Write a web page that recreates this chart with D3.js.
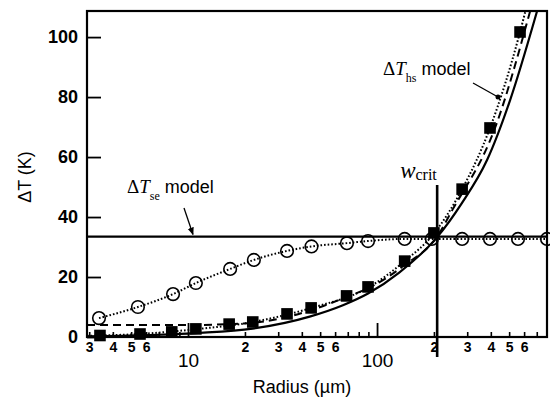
<!DOCTYPE html>
<html>
<head>
<meta charset="utf-8">
<script src="https://cdn.jsdelivr.net/npm/d3@7"></script>
<style>
  body { margin: 0; background: #fff; }
  svg { display: block; font-family: "Liberation Sans", Arial, sans-serif; }
</style>
</head>
<body>
<svg id="chart" width="550" height="401"></svg>
<script>
// --- values ---
// open circles (dT_se measurements)
const seRadius = [3.38, 5.43, 8.33, 11.0, 16.7, 22.3, 33.4, 45.0, 69.3, 89.6, 140, 195, 282, 396, 557, 793];
const seData   = [6.3, 10.0, 14.3, 18.0, 22.7, 25.7, 28.7, 30.2, 31.3, 32.0, 32.7, 32.7, 32.7, 32.7, 32.7, 32.7];

// filled squares (dT_hs measurements)
const hsRadius = [3.42, 5.57, 8.2, 11.0, 16.5, 22.0, 33.4, 44.8, 69.0, 89.6, 140, 200, 282, 396, 571];
const hsData   = [0.5, 1.0, 1.7, 2.7, 4.3, 5.0, 7.7, 9.7, 13.7, 16.7, 25.3, 34.7, 49.3, 69.7, 101.7];

// dotted dT_hs model curve
const hsModelRadius = [2.92, 5.5, 11, 22, 45, 90, 140, 200, 282, 396, 571, 610];
const hsModelT      = [0.4, 1.0, 2.6, 5.0, 9.7, 16.5, 25.3, 34.5, 49.3, 69.7, 101.7, 108.7];

// dashed curve
const dashRadius = [2.92, 10, 20, 30, 45, 70, 90, 140, 208, 250, 421, 646];
const dashT      = [4.0, 4.0, 4.5, 6.0, 9.0, 13.5, 16.3, 24.0, 33.5, 42.3, 69.7, 108.7];

// solid curve
const solidRadius = [2.92, 11, 22, 44, 66, 89.6, 131, 208, 280, 382, 506, 703];
const solidT      = [0.2, 1.3, 2.8, 6.8, 10.6, 14.5, 21.5, 33.3, 44.5, 59.0, 79.0, 108.7];

const seModel = 33.5;   // horizontal dT_se model line
const wCrit = 208;      // vertical w_crit line

// tick labels
const majorTicks = [10, 100];
const minorTicks = [3, 4, 5, 6, 7, 8, 9, 20, 30, 40, 50, 60, 70, 80, 90, 200, 300, 400, 500, 600, 700];
const minorLabels = [3, 4, 5, 6, 20, 30, 40, 50, 60, 200, 300, 400, 500, 600];
const yTicks = [0, 20, 40, 60, 80, 100];

const margin = { top: 11, right: 3, bottom: 64, left: 87 },
      width = 550 - margin.left - margin.right,
      height = 401 - margin.top - margin.bottom;

const svg = d3.select("#chart");
const g = svg.append("g")
             .attr("transform", `translate(${margin.left},${margin.top})`);

const x = d3.scaleLog().domain([2.92, 793]).range([0, width]);
const y = d3.scaleLinear().domain([0, 108.7]).range([height, 0]);

svg.append("defs").append("clipPath")
   .attr("id", "plot-clip")
   .append("rect")
   .attr("width", width)
   .attr("height", height);

// X axis: small digit labels + big decade labels, ticks point inward
g.append("g")
 .attr("transform", `translate(0,${height})`)
 .call(d3.axisBottom(x)
         .tickValues(minorTicks)
         .tickSize(-5)
         .tickPadding(5)
         .tickFormat(d => minorLabels.includes(d) ? String(d).charAt(0) : ""))
 .call(a => a.select(".domain").remove())
 .call(a => a.selectAll(".tick line").attr("stroke", "#000").attr("stroke-width", 1.6))
 .call(a => a.selectAll("text").attr("font-size", 14).attr("font-weight", "bold")
             .attr("fill", "#000").attr("font-family", "Liberation Sans, Arial, sans-serif"));

g.append("g")
 .attr("transform", `translate(0,${height})`)
 .call(d3.axisBottom(x)
         .tickValues(majorTicks)
         .tickSize(-14)
         .tickPadding(17)
         .tickFormat(d => d))
 .call(a => a.select(".domain").remove())
 .call(a => a.selectAll(".tick line").attr("stroke", "#000").attr("stroke-width", 1.8))
 .call(a => a.selectAll("text").attr("font-size", 19).attr("fill", "#000")
             .attr("font-family", "Liberation Sans, Arial, sans-serif"));

// Y axis
g.append("g")
 .call(d3.axisLeft(y)
         .tickValues(yTicks)
         .tickSize(-14)
         .tickPadding(9))
 .call(a => a.select(".domain").remove())
 .call(a => a.selectAll(".tick line").attr("stroke", "#000").attr("stroke-width", 1.8))
 .call(a => a.selectAll("text").attr("font-size", 18).attr("font-weight", "bold")
             .attr("fill", "#000").attr("font-family", "Liberation Sans, Arial, sans-serif"));

// frame
g.append("rect")
 .attr("width", width)
 .attr("height", height)
 .attr("fill", "none")
 .attr("stroke", "#000")
 .attr("stroke-width", 2.2);

const plot = g.append("g").attr("clip-path", "url(#plot-clip)");

const line = d3.line()
               .x(d => x(d[0]))
               .y(d => y(d[1]))
               .curve(d3.curveMonotoneX);

// horizontal dT_se model line
plot.append("line")
    .attr("x1", 0).attr("x2", width)
    .attr("y1", y(seModel)).attr("y2", y(seModel))
    .attr("stroke", "#000").attr("stroke-width", 2.2);

// model curves
plot.append("path")
    .datum(d3.zip(solidRadius, solidT))
    .attr("d", line)
    .attr("fill", "none").attr("stroke", "#000").attr("stroke-width", 2.2);

plot.append("path")
    .datum(d3.zip(dashRadius, dashT))
    .attr("d", line)
    .attr("fill", "none").attr("stroke", "#000").attr("stroke-width", 2)
    .attr("stroke-dasharray", "8,5");

plot.append("path")
    .datum(d3.zip(hsModelRadius, hsModelT))
    .attr("d", line)
    .attr("fill", "none").attr("stroke", "#000").attr("stroke-width", 2)
    .attr("stroke-dasharray", "1.6,2");

// dotted line through the circles
plot.append("path")
    .datum(d3.zip(seRadius, seData))
    .attr("d", line)
    .attr("fill", "none").attr("stroke", "#000").attr("stroke-width", 2)
    .attr("stroke-dasharray", "1.6,2");

// points
g.selectAll(".se-dot")
 .data(d3.zip(seRadius, seData))
 .enter().append("circle")
 .attr("class", "se-dot")
 .attr("cx", d => x(d[0]))
 .attr("cy", d => y(d[1]))
 .attr("r", 6.3)
 .attr("fill", "none")
 .attr("stroke", "#000")
 .attr("stroke-width", 1.6);

g.selectAll(".hs-dot")
 .data(d3.zip(hsRadius, hsData))
 .enter().append("rect")
 .attr("class", "hs-dot")
 .attr("x", d => x(d[0]) - 5.8)
 .attr("y", d => y(d[1]) - 5.8)
 .attr("width", 11.6)
 .attr("height", 11.6)
 .attr("fill", "#000");

// w_crit vertical line (runs down through the axis)
g.append("line")
 .attr("x1", x(wCrit)).attr("x2", x(wCrit))
 .attr("y1", 174).attr("y2", height + 20)
 .attr("stroke", "#000").attr("stroke-width", 2.6);

const wLabel = g.append("text")
                .attr("x", x(wCrit) - 37)
                .attr("y", 167)
                .attr("font-family", "Liberation Serif, Times New Roman, serif");
wLabel.append("tspan").attr("font-style", "italic").attr("font-size", 23).text("w");
wLabel.append("tspan").attr("font-size", 16).attr("dy", 2).text("crit");

// model annotations
function modelLabel(px, py, sub) {
  const t = g.append("text").attr("x", px).attr("y", py);
  t.append("tspan").attr("font-family", "Liberation Serif, Times New Roman, serif")
   .attr("font-size", 19).text("\u0394");
  t.append("tspan").attr("font-family", "Liberation Serif, Times New Roman, serif")
   .attr("font-size", 19).attr("font-style", "italic").text("T");
  t.append("tspan").attr("font-family", "Liberation Serif, Times New Roman, serif")
   .attr("font-size", 12).attr("dy", 7).text(sub);
  t.append("tspan").attr("font-size", 18).attr("dy", -7).text(" model");
}
modelLabel(40, 182, "se");
modelLabel(296, 64, "hs");

// arrows
svg.select("defs").append("marker")
   .attr("id", "arrow")
   .attr("viewBox", "0 0 10 10")
   .attr("refX", 9).attr("refY", 5)
   .attr("markerWidth", 6).attr("markerHeight", 6)
   .attr("orient", "auto")
   .append("path")
   .attr("d", "M0,1 L10,5 L0,9 z")
   .attr("fill", "#000");

g.append("line")
 .attr("x1", 97).attr("y1", 197)
 .attr("x2", 106).attr("y2", y(seModel) - 2)
 .attr("stroke", "#000").attr("stroke-width", 1.3)
 .attr("marker-end", "url(#arrow)");

g.append("line")
 .attr("x1", 386).attr("y1", 72)
 .attr("x2", 411).attr("y2", 86)
 .attr("stroke", "#000").attr("stroke-width", 1.3);
g.append("circle")
 .attr("cx", 411).attr("cy", 86).attr("r", 2.5).attr("fill", "#000");

// axis titles
svg.append("text")
   .attr("text-anchor", "middle")
   .attr("transform", "translate(31,177)rotate(-90)")
   .attr("font-size", 18)
   .text("\u0394T (K)");

svg.append("text")
   .attr("text-anchor", "middle")
   .attr("x", 302)
   .attr("y", 393)
   .attr("font-size", 18)
   .text("Radius (\u00b5m)");
</script>
</body>
</html>
